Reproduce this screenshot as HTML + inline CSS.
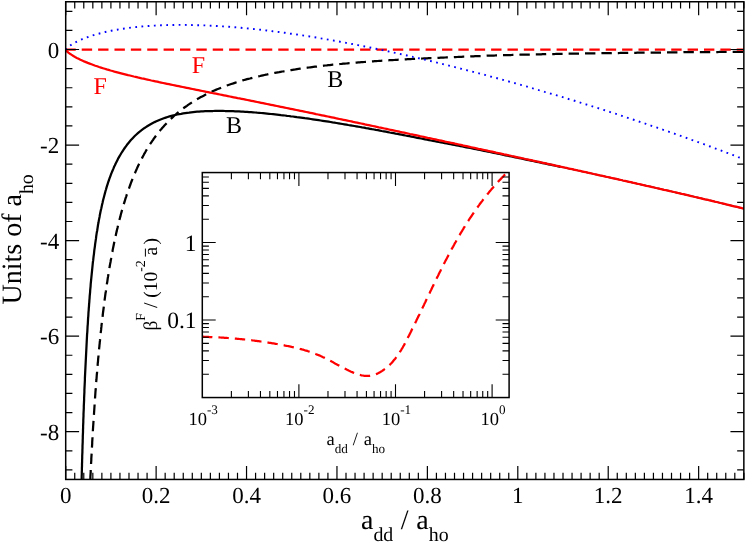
<!DOCTYPE html>
<html><head><meta charset="utf-8"><title>chart</title><style>html,body{margin:0;padding:0;background:#fff;overflow:hidden}svg{display:block;will-change:transform}text{text-rendering:geometricPrecision}</style></head><body>
<svg width="747" height="543" viewBox="0 0 747 543">
<rect width="747" height="543" fill="#fff"/>
<clipPath id="cm"><rect x="65.70" y="1.75" width="678.15" height="477.70"/></clipPath>
<clipPath id="ci"><rect x="202.30" y="172.56" width="306.80" height="224.99"/></clipPath>
<g clip-path="url(#cm)" fill="none" stroke-linejoin="round">
<path d="M79.3 604.2 L79.3 602.2 L79.3 600.2 L79.4 598.2 L79.4 596.2 L79.4 594.2 L79.4 592.2 L79.5 590.2 L79.5 588.2 L79.5 586.2 L79.6 584.2 L79.6 582.2 L79.6 580.2 L79.7 578.2 L79.7 576.2 L79.7 574.2 L79.8 572.2 L79.8 570.2 L79.8 568.2 L79.9 566.2 L79.9 564.2 L79.9 562.2 L80.0 560.2 L80.0 558.2 L80.0 556.2 L80.1 554.2 L80.1 552.2 L80.1 550.2 L80.2 548.2 L80.2 546.2 L80.3 544.2 L80.3 542.2 L80.3 540.2 L80.4 538.2 L80.4 536.2 L80.4 534.2 L80.5 532.2 L80.5 530.2 L80.6 528.2 L80.6 526.2 L80.6 524.2 L80.7 522.2 L80.7 520.1 L80.8 518.1 L80.8 516.1 L80.9 514.1 L80.9 512.1 L80.9 510.1 L81.0 508.1 L81.0 506.1 L81.1 504.1 L81.1 502.1 L81.2 500.1 L81.2 498.1 L81.2 496.1 L81.3 494.1 L81.3 492.1 L81.4 490.1 L81.4 488.1 L81.5 486.1 L81.5 484.1 L81.6 482.1 L81.6 480.1 L81.7 478.1 L81.7 476.1 L81.8 474.1 L81.8 472.1 L81.9 470.1 L81.9 468.1 L82.0 466.1 L82.0 464.1 L82.1 462.1 L82.1 460.1 L82.2 458.1 L82.2 456.1 L82.3 454.1 L82.4 452.1 L82.4 450.1 L82.5 448.1 L82.5 446.1 L82.6 444.1 L82.7 442.1 L82.7 440.1 L82.8 438.1 L82.8 436.1 L82.9 434.1 L83.0 432.1 L83.0 430.1 L83.1 428.1 L83.1 426.1 L83.2 424.1 L83.3 422.1 L83.3 420.1 L83.4 418.1 L83.5 416.1 L83.5 414.1 L83.6 412.1 L83.7 410.1 L83.8 408.1 L83.8 406.1 L83.9 404.1 L84.0 402.1 L84.1 400.1 L84.1 398.1 L84.2 396.1 L84.3 394.1 L84.4 392.1 L84.4 390.1 L84.5 388.1 L84.6 386.1 L84.7 384.1 L84.8 382.1 L84.9 380.1 L84.9 378.1 L85.0 376.1 L85.1 374.1 L85.2 372.1 L85.3 370.1 L85.4 368.1 L85.5 366.1 L85.6 364.1 L85.7 362.1 L85.8 360.1 L85.9 358.1 L86.0 356.1 L86.1 354.1 L86.2 352.1 L86.3 350.1 L86.4 348.1 L86.5 346.1 L86.6 344.1 L86.7 342.1 L86.8 340.1 L86.9 338.1 L87.0 336.1 L87.1 334.1 L87.3 332.1 L87.4 330.1 L87.5 328.1 L87.6 326.1 L87.8 324.1 L87.9 322.1 L88.0 320.1 L88.1 318.1 L88.3 316.1 L88.4 314.1 L88.5 312.1 L88.7 310.1 L88.8 308.1 L89.0 306.1 L89.1 304.1 L89.3 302.1 L89.4 300.1 L89.6 298.1 L89.7 296.1 L89.9 294.1 L90.1 292.1 L90.2 290.1 L90.4 288.1 L90.6 286.1 L90.7 284.1 L90.9 282.1 L91.1 280.1 L91.3 278.2 L91.5 276.2 L91.7 274.2 L91.9 272.2 L92.1 270.2 L92.3 268.2 L92.5 266.2 L92.7 264.2 L92.9 262.2 L93.2 260.2 L93.4 258.2 L93.6 256.3 L93.9 254.3 L94.1 252.3 L94.3 250.3 L94.6 248.3 L94.9 246.3 L95.1 244.3 L95.4 242.3 L95.7 240.4 L96.0 238.4 L96.2 236.4 L96.5 234.4 L96.8 232.4 L97.2 230.5 L97.5 228.5 L97.8 226.5 L98.1 224.5 L98.5 222.6 L98.8 220.6 L99.2 218.6 L99.6 216.7 L99.9 214.7 L100.3 212.7 L100.7 210.8 L101.2 208.8 L101.6 206.9 L102.0 204.9 L102.5 203.0 L102.9 201.1 L103.4 199.1 L103.9 197.2 L104.4 195.3 L104.9 193.4 L105.4 191.4 L106.0 189.5 L106.5 187.6 L107.1 185.7 L107.7 183.8 L108.3 181.9 L109.0 180.0 L109.6 178.2 L110.3 176.3 L111.0 174.4 L111.7 172.6 L112.5 170.7 L113.3 168.9 L114.0 167.1 L114.9 165.3 L115.7 163.5 L116.6 161.7 L117.5 159.9 L118.4 158.1 L119.4 156.4 L120.4 154.7 L121.4 153.0 L122.5 151.3 L123.6 149.6 L124.7 148.0 L125.9 146.4 L127.0 144.8 L128.3 143.2 L129.5 141.7 L130.9 140.1 L132.2 138.7 L133.6 137.2 L135.0 135.8 L136.4 134.5 L137.9 133.1 L139.4 131.8 L141.0 130.6 L142.6 129.4 L144.2 128.2 L145.9 127.1 L147.6 126.0 L149.3 125.0 L151.0 124.0 L152.8 123.0 L154.6 122.1 L156.4 121.3 L158.2 120.5 L160.0 119.7 L161.9 119.0 L163.8 118.3 L165.7 117.6 L167.6 117.0 L169.5 116.4 L171.4 115.9 L173.4 115.4 L175.3 115.0 L177.3 114.5 L179.2 114.1 L181.2 113.8 L183.2 113.4 L185.2 113.1 L187.1 112.8 L189.1 112.6 L191.1 112.3 L193.1 112.1 L195.1 111.9 L197.1 111.7 L199.1 111.6 L201.1 111.4 L203.1 111.3 L205.1 111.2 L207.1 111.1 L209.1 111.1 L211.1 111.0 L213.1 111.0 L215.1 110.9 L217.1 110.9 L219.1 110.9 L221.1 110.9 L223.1 110.9 L225.1 111.0 L227.1 111.0 L229.1 111.1 L231.1 111.1 L233.1 111.2 L235.1 111.3 L237.1 111.3 L239.1 111.4 L241.1 111.6 L243.1 111.7 L245.1 111.8 L247.1 111.9 L249.1 112.1 L251.1 112.2 L253.1 112.3 L255.1 112.5 L257.1 112.7 L259.1 112.8 L261.1 113.0 L263.1 113.2 L265.1 113.4 L267.1 113.6 L269.1 113.8 L271.0 114.0 L273.0 114.2 L275.0 114.4 L277.0 114.6 L279.0 114.8 L281.0 115.1 L283.0 115.3 L285.0 115.5 L287.0 115.8 L288.9 116.0 L290.9 116.3 L292.9 116.5 L294.9 116.8 L296.9 117.1 L298.9 117.3 L300.9 117.6 L302.8 117.9 L304.8 118.2 L306.8 118.4 L308.8 118.7 L310.8 119.0 L312.8 119.3 L314.7 119.6 L316.7 119.9 L318.7 120.2 L320.7 120.5 L322.7 120.8 L324.6 121.1 L326.6 121.4 L328.6 121.7 L330.6 122.0 L332.5 122.4 L334.5 122.7 L336.5 123.0 L338.5 123.3 L340.4 123.7 L342.4 124.0 L344.4 124.3 L346.4 124.6 L348.3 125.0 L350.3 125.3 L352.3 125.7 L354.3 126.0 L356.2 126.3 L358.2 126.7 L360.2 127.0 L362.1 127.4 L364.1 127.7 L366.1 128.1 L368.1 128.4 L370.0 128.8 L372.0 129.2 L374.0 129.5 L375.9 129.9 L377.9 130.2 L379.9 130.6 L381.8 131.0 L383.8 131.3 L385.8 131.7 L387.8 132.1 L389.7 132.5 L391.7 132.8 L393.7 133.2 L395.6 133.6 L397.6 133.9 L399.6 134.3 L401.5 134.7 L403.5 135.1 L405.5 135.5 L407.4 135.8 L409.4 136.2 L411.3 136.6 L413.3 137.0 L415.3 137.4 L417.2 137.8 L419.2 138.1 L421.2 138.5 L423.1 138.9 L425.1 139.3 L427.1 139.7 L429.0 140.1 L431.0 140.5 L433.0 140.8 L434.9 141.2 L436.9 141.6 L438.8 142.0 L440.8 142.3 L442.8 142.7 L444.7 143.1 L446.7 143.5 L448.7 143.8 L450.6 144.2 L452.6 144.6 L454.5 145.0 L456.5 145.4 L458.5 145.7 L460.4 146.1 L462.4 146.5 L464.3 146.9 L466.3 147.3 L468.3 147.7 L470.2 148.0 L472.2 148.4 L474.2 148.8 L476.1 149.2 L478.1 149.6 L480.0 150.0 L482.0 150.4 L484.0 150.8 L485.9 151.2 L487.9 151.6 L489.8 152.0 L491.8 152.4 L493.8 152.8 L495.7 153.2 L497.7 153.6 L499.6 154.0 L501.6 154.5 L503.6 154.9 L505.5 155.3 L507.5 155.7 L509.4 156.1 L511.4 156.5 L513.3 156.9 L515.3 157.3 L517.3 157.7 L519.2 158.1 L521.2 158.5 L523.1 158.9 L525.1 159.4 L527.1 159.8 L529.0 160.2 L531.0 160.6 L532.9 161.0 L534.9 161.4 L536.8 161.8 L538.8 162.2 L540.8 162.6 L542.7 163.1 L544.7 163.5 L546.6 163.9 L548.6 164.3 L550.5 164.7 L552.5 165.1 L554.5 165.5 L556.4 166.0 L558.4 166.4 L560.3 166.8" stroke="#000" stroke-width="2.25"/>
<path d="M560.3 166.8 L562.3 167.2 L564.2 167.6 L566.2 168.0 L568.2 168.5 L570.1 168.9 L572.1 169.3 L574.0 169.7 L576.0 170.1 L577.9 170.6 L579.9 171.0 L581.9 171.4 L583.8 171.8 L585.8 172.3 L587.7 172.7 L589.7 173.1 L591.6 173.5 L593.6 174.0 L595.6 174.4 L597.5 174.8 L599.5 175.3 L601.4 175.7 L603.4 176.1 L605.3 176.5 L607.3 177.0 L609.2 177.4 L611.2 177.8 L613.2 178.3 L615.1 178.7 L617.1 179.1 L619.0 179.6 L621.0 180.0 L622.9 180.5 L624.9 180.9 L626.8 181.3 L628.8 181.8 L630.7 182.2 L632.7 182.7 L634.7 183.1 L636.6 183.5 L638.6 184.0 L640.5 184.4 L642.5 184.9 L644.4 185.3 L646.4 185.7 L648.3 186.2 L650.3 186.6 L652.2 187.1 L654.2 187.5 L656.1 188.0 L658.1 188.4 L660.0 188.8 L662.0 189.3 L663.9 189.7 L665.9 190.2 L667.9 190.6 L669.8 191.1 L671.8 191.5 L673.7 192.0 L675.7 192.4 L677.6 192.9 L679.6 193.3 L681.5 193.8 L683.5 194.2 L685.4 194.7 L687.4 195.1 L689.3 195.6 L691.3 196.0 L693.2 196.5 L695.2 197.0 L697.1 197.4 L699.1 197.9 L701.0 198.3 L703.0 198.8 L704.9 199.3 L706.9 199.7 L708.8 200.2 L710.8 200.6 L712.7 201.1 L714.7 201.6 L716.6 202.0 L718.6 202.5 L720.5 203.0 L722.4 203.4 L724.4 203.9 L726.3 204.4 L728.3 204.8 L730.2 205.3 L732.2 205.8 L734.1 206.3 L736.1 206.7 L738.0 207.2 L740.0 207.7 L741.9 208.2 L743.9 208.6" stroke="#000" stroke-width="1.5"/>
<path id="bd" d="M90.3 479.6 L90.4 478.1 L90.4 476.6 L90.5 475.1 L90.6 473.6 L90.7 472.1 L90.7 470.6 L90.8 469.1 L90.9 467.6 L91.0 466.1 L91.0 464.6 L91.1 463.1 L91.2 461.6 L91.3 460.1 L91.3 458.6 L91.4 457.1 L91.5 455.6 L91.6 454.1 L91.7 452.6 L91.7 451.1 L91.8 449.6 L91.9 448.1 L92.0 446.6 L92.1 445.1 L92.2 443.6 L92.2 442.1 L92.3 440.6 L92.4 439.1 L92.5 437.6 L92.6 436.1 L92.7 434.7 L92.8 433.2 L92.8 431.7 L92.9 430.2 L93.0 428.7 L93.1 427.2 L93.2 425.7 L93.3 424.2 L93.4 422.7 L93.5 421.2 L93.6 419.7 L93.7 418.2 L93.8 416.7 L93.9 415.2 L94.0 413.7 L94.1 412.2 L94.2 410.7 L94.3 409.2 L94.4 407.7 L94.5 406.2 L94.6 404.7 L94.7 403.2 L94.8 401.7 L94.9 400.2 L95.0 398.7 L95.1 397.2 L95.2 395.7 L95.3 394.2 L95.4 392.7 L95.5 391.2 L95.7 389.7 L95.8 388.2 L95.9 386.7 L96.0 385.2 L96.1 383.7 L96.2 382.2 L96.3 380.7 L96.5 379.2 L96.6 377.7 L96.7 376.2 L96.8 374.7 L97.0 373.2 L97.1 371.7 L97.2 370.3 L97.3 368.8 L97.5 367.3 L97.6 365.8 L97.7 364.3 L97.8 362.8 L98.0 361.3 L98.1 359.8 L98.2 358.3 L98.4 356.8 L98.5 355.3 L98.7 353.8 L98.8 352.3 L98.9 350.8 L99.1 349.3 L99.2 347.8 L99.4 346.3 L99.5 344.8 L99.7 343.3 L99.8 341.8 L100.0 340.4 L100.1 338.9 L100.3 337.4 L100.4 335.9 L100.6 334.4 L100.7 332.9 L100.9 331.4 L101.1 329.9 L101.2 328.4 L101.4 326.9 L101.5 325.4 L101.7 323.9 L101.9 322.4 L102.1 320.9 L102.2 319.5 L102.4 318.0 L102.6 316.5 L102.8 315.0 L102.9 313.5 L103.1 312.0 L103.3 310.5 L103.5 309.0 L103.7 307.5 L103.9 306.0 L104.0 304.6 L104.2 303.1 L104.4 301.6 L104.6 300.1 L104.8 298.6 L105.0 297.1 L105.2 295.6 L105.4 294.1 L105.6 292.7 L105.9 291.2 L106.1 289.7 L106.3 288.2 L106.5 286.7 L106.7 285.3 L106.9 283.8 L107.2 282.3 L107.4 280.8 L107.6 279.3 L107.8 277.9 L108.1 276.4 L108.3 274.9 L108.5 273.4 L108.8 272.0 L109.0 270.5 L109.3 269.0 L109.5 267.5 L109.8 266.1 L110.0 264.6 L110.3 263.1 L110.6 261.7 L110.8 260.2 L111.1 258.7 L111.3 257.2 L111.6 255.8 L111.9 254.3 L112.2 252.8 L112.5 251.4 L112.7 249.9 L113.0 248.4 L113.3 247.0 L113.6 245.5 L113.9 244.0 L114.2 242.6 L114.5 241.1 L114.8 239.7 L115.2 238.2 L115.5 236.7 L115.8 235.3 L116.1 233.8 L116.4 232.4 L116.8 230.9 L117.1 229.4 L117.5 228.0 L117.8 226.5 L118.2 225.1 L118.5 223.6 L118.9 222.2 L119.2 220.7 L119.6 219.3 L120.0 217.8 L120.4 216.4 L120.7 215.0 L121.1 213.5 L121.5 212.1 L121.9 210.6 L122.3 209.2 L122.8 207.8 L123.2 206.3 L123.6 204.9 L124.0 203.4 L124.5 202.0 L124.9 200.6 L125.3 199.2 L125.8 197.7 L126.3 196.3 L126.7 194.9 L127.2 193.5 L127.7 192.1 L128.2 190.6 L128.7 189.2 L129.2 187.8 L129.7 186.4 L130.2 185.0 L130.7 183.6 L131.2 182.2 L131.8 180.8 L132.3 179.4 L132.9 178.0 L133.4 176.6 L134.0 175.2 L134.6 173.8 L135.2 172.5 L135.8 171.1 L136.4 169.7 L137.0 168.4 L137.6 167.0 L138.3 165.6 L138.9 164.3 L139.6 162.9 L140.2 161.6 L140.9 160.3 L141.6 158.9 L142.3 157.6 L143.0 156.3 L143.7 155.0 L144.4 153.6 L145.2 152.3 L145.9 151.0 L146.7 149.7 L147.4 148.5 L148.2 147.2 L149.0 145.9 L149.8 144.6 L150.6 143.4 L151.5 142.1 L152.3 140.9 L153.2 139.7 L154.0 138.4 L154.9 137.2 L155.8 136.0 L156.7 134.8 L157.6 133.6 L158.5 132.4 L159.5 131.3 L160.4 130.1 L161.4 129.0 L162.4 127.8 L163.4 126.7 L164.4 125.6 L165.4 124.5 L166.4 123.4 L167.5 122.3 L168.5 121.2 L169.6 120.2 L170.6 119.1 L171.7 118.1 L172.8 117.1 L173.9 116.0 L175.1 115.0 L176.2 114.1 L177.3 113.1 L178.5 112.1 L179.7 111.2 L180.8 110.3 L182.0 109.3 L183.2 108.4 L184.4 107.5 L185.6 106.7 L186.9 105.8 L188.1 104.9 L189.3 104.1 L190.6 103.3 L191.9 102.4 L193.1 101.6 L194.4 100.9 L195.7 100.1 L197.0 99.3 L198.3 98.6 L199.6 97.8 L200.9 97.1 L202.2 96.4 L203.6 95.7 L204.9 95.0 L206.2 94.3 L207.6 93.7 L208.9 93.0 L210.3 92.4 L211.7 91.7 L213.0 91.1 L214.4 90.5 L215.8 89.9 L217.2 89.3 L218.5 88.8 L219.9 88.2 L221.3 87.6 L222.7 87.1 L224.1 86.6 L225.5 86.0 L226.9 85.5 L228.4 85.0 L229.8 84.5 L231.2 84.0 L232.6 83.6 L234.1 83.1 L235.5 82.6 L236.9 82.2 L238.3 81.7 L239.8 81.3 L241.2 80.9 L242.7 80.4 L244.1 80.0 L245.6 79.6 L247.0 79.2 L248.4 78.8 L249.9 78.5 L251.4 78.1 L252.8 77.7 L254.3 77.3 L255.7 77.0 L257.2 76.6 L258.6 76.3 L260.1 76.0 L261.6 75.6 L263.0 75.3 L264.5 75.0 L266.0 74.7 L267.4 74.4 L268.9 74.0 L270.4 73.7 L271.9 73.5 L273.3 73.2 L274.8 72.9 L276.3 72.6 L277.8 72.3 L279.2 72.1 L280.7 71.8 L282.2 71.5 L283.7 71.3 L285.1 71.0 L286.6 70.8 L288.1 70.5 L289.6 70.3 L291.1 70.1 L292.6 69.8 L294.0 69.6 L295.5 69.4 L297.0 69.1 L298.5 68.9 L300.0 68.7 L301.5 68.5 L303.0 68.3 L304.4 68.1 L305.9 67.9 L307.4 67.7 L308.9 67.5 L310.4 67.3 L311.9 67.1 L313.4 66.9 L314.9 66.7 L316.4 66.6 L317.8 66.4 L319.3 66.2 L320.8 66.0 L322.3 65.9 L323.8 65.7 L325.3 65.5 L326.8 65.4 L328.3 65.2 L329.8 65.1 L331.3 64.9 L332.8 64.7 L334.3 64.6 L335.8 64.4 L337.3 64.3 L338.7 64.2 L340.2 64.0 L341.7 63.9 L343.2 63.7 L344.7 63.6 L346.2 63.5 L347.7 63.3 L349.2 63.2 L350.7 63.1 L352.2 62.9 L353.7 62.8 L355.2 62.7 L356.7 62.6 L358.2 62.4 L359.7 62.3 L361.2 62.2 L362.7 62.1 L364.2 62.0 L365.7 61.9 L367.2 61.8 L368.7 61.6 L370.2 61.5 L371.7 61.4 L373.2 61.3 L374.7 61.2 L376.2 61.1 L377.7 61.0 L379.2 60.9 L380.7 60.8 L382.2 60.7 L383.7 60.6 L385.1 60.5 L386.6 60.4 L388.1 60.3 L389.6 60.2 L391.1 60.2 L392.6 60.1 L394.1 60.0 L395.6 59.9 L397.1 59.8 L398.6 59.7 L400.1 59.6 L401.6 59.6 L403.1 59.5 L404.6 59.4 L406.1 59.3 L407.6 59.2 L409.1 59.2 L410.6 59.1 L412.1 59.0 L413.6 58.9 L415.1 58.8 L416.6 58.8 L418.1 58.7 L419.6 58.6 L421.1 58.6 L422.6 58.5 L424.1 58.4 L425.6 58.3 L427.1 58.3 L428.6 58.2 L430.1 58.1 L431.6 58.1 L433.1 58.0 L434.6 58.0 L436.1 57.9 L437.6 57.8 L439.1 57.8 L440.6 57.7 L442.1 57.6 L443.6 57.6 L445.1 57.5 L446.6 57.4 L448.1 57.4 L449.6 57.3 L451.1 57.3 L452.6 57.2 L454.1 57.1 L455.6 57.1 L457.1 57.0 L458.6 56.9 L460.1 56.9 L461.6 56.8 L463.1 56.7 L464.6 56.7 L466.1 56.6 L467.6 56.5 L469.1 56.5 L470.6 56.4 L472.1 56.3 L473.6 56.3 L475.1 56.2 L476.6 56.1 L478.1 56.1 L479.6 56.0 L481.1 56.0 L482.6 55.9 L484.1 55.8 L485.6 55.8 L487.1 55.7 L488.6 55.7 L490.1 55.6 L491.6 55.6 L493.1 55.5 L494.6 55.5 L496.1 55.4 L497.7 55.4 L499.2 55.3 L500.7 55.3 L502.2 55.2 L503.7 55.2 L505.2 55.2 L506.7 55.1 L508.2 55.1 L509.7 55.0 L511.2 55.0 L512.7 54.9 L514.2 54.9 L515.7 54.9 L517.2 54.8 L518.7 54.8 L520.2 54.7 L521.7 54.7 L523.2 54.7 L524.7 54.6 L526.2 54.6 L527.7 54.6 L529.2 54.5 L530.7 54.5 L532.2 54.5 L533.7 54.4 L535.2 54.4 L536.7 54.4 L538.2 54.3 L539.7 54.3 L541.2 54.3 L542.7 54.2 L544.2 54.2 L545.7 54.2 L547.2 54.1 L548.7 54.1 L550.2 54.1 L551.7 54.0 L553.2 54.0 L554.7 54.0 L556.2 53.9 L557.7 53.9 L559.2 53.9 L560.7 53.9 L562.2 53.8 L563.7 53.8 L565.2 53.8 L566.7 53.8 L568.2 53.7 L569.7 53.7 L571.2 53.7 L572.7 53.7 L574.2 53.6 L575.7 53.6 L577.2 53.6 L578.7 53.6 L580.2 53.5 L581.7 53.5 L583.2 53.5 L584.7 53.5 L586.2 53.4 L587.7 53.4 L589.2 53.4 L590.7 53.4 L592.2 53.3 L593.7 53.3 L595.2 53.3 L596.7 53.3 L598.2 53.3 L599.7 53.2 L601.2 53.2 L602.7 53.2 L604.2 53.2 L605.7 53.1 L607.2 53.1 L608.7 53.1 L610.2 53.1 L611.7 53.1 L613.2 53.0 L614.7 53.0 L616.2 53.0 L617.7 53.0 L619.2 53.0 L620.7 52.9 L622.2 52.9 L623.7 52.9 L625.2 52.9 L626.7 52.9 L628.2 52.8 L629.7 52.8 L631.3 52.8 L632.8 52.8 L634.3 52.8 L635.8 52.8 L637.3 52.7 L638.8 52.7 L640.3 52.7 L641.8 52.7 L643.3 52.7 L644.8 52.7 L646.3 52.6 L647.8 52.6 L649.3 52.6 L650.8 52.6 L652.3 52.6 L653.8 52.6 L655.3 52.5 L656.8 52.5 L658.3 52.5 L659.8 52.5 L661.3 52.5 L662.8 52.5 L664.3 52.4 L665.8 52.4 L667.3 52.4 L668.8 52.4 L670.3 52.4 L671.8 52.4 L673.3 52.3 L674.8 52.3 L676.3 52.3 L677.8 52.3 L679.3 52.3 L680.8 52.3 L682.3 52.3 L683.8 52.2 L685.3 52.2 L686.8 52.2 L688.3 52.2 L689.8 52.2 L691.3 52.2 L692.8 52.2 L694.3 52.2 L695.8 52.1 L697.3 52.1 L698.8 52.1 L700.3 52.1 L701.8 52.1 L703.3 52.1 L704.8 52.1 L706.3 52.0 L707.8 52.0 L709.3 52.0 L710.8 52.0 L712.3 52.0 L713.8 52.0 L715.3 52.0 L716.8 52.0 L718.3 52.0 L719.8 51.9 L721.3 51.9 L722.8 51.9 L724.3 51.9 L725.8 51.9 L727.3 51.9 L728.8 51.9 L730.3 51.9 L731.8 51.8 L733.3 51.8 L734.8 51.8 L736.3 51.8 L737.8 51.8 L739.3 51.8 L740.8 51.8 L742.3 51.8 L743.9 51.8" stroke="#000" stroke-width="2.25" stroke-dasharray="10.4 6.010" stroke-dashoffset="0.81"/>
<path d="M65.7 49.7 L66.9 51.3 L68.4 52.6 L70.0 53.8 L71.7 54.9 L73.4 56.0 L75.1 57.0 L76.8 57.9 L78.6 58.8 L80.4 59.7 L82.2 60.5 L84.1 61.4 L85.9 62.1 L87.8 62.9 L89.6 63.6 L91.5 64.3 L93.4 65.0 L95.3 65.7 L97.2 66.3 L99.1 67.0 L101.0 67.6 L102.9 68.2 L104.8 68.8 L106.7 69.4 L108.6 69.9 L110.5 70.5 L112.5 71.0 L114.4 71.6 L116.3 72.1 L118.3 72.6 L120.2 73.1 L122.1 73.6 L124.1 74.1 L126.0 74.6 L128.0 75.1 L129.9 75.5 L131.8 76.0 L133.8 76.5 L135.7 76.9 L137.7 77.4 L139.6 77.8 L141.6 78.3 L143.5 78.7 L145.5 79.2 L147.4 79.6 L149.4 80.0 L151.3 80.5 L153.3 80.9 L155.3 81.3 L157.2 81.7 L159.2 82.2 L161.1 82.6 L163.1 83.0 L165.0 83.4 L167.0 83.8 L169.0 84.2 L170.9 84.6 L172.9 85.0 L174.8 85.4 L176.8 85.8 L178.8 86.2 L180.7 86.6 L182.7 87.0 L184.6 87.4 L186.6 87.8 L188.6 88.2 L190.5 88.6 L192.5 89.0 L194.4 89.4 L196.4 89.8 L198.4 90.2 L200.3 90.6 L202.3 91.0 L204.3 91.4 L206.2 91.8 L208.2 92.2 L210.1 92.6 L212.1 93.0 L214.1 93.3 L216.0 93.7 L218.0 94.1 L219.9 94.5 L221.9 94.9 L223.9 95.3 L225.8 95.7 L227.8 96.1 L229.8 96.5 L231.7 96.9 L233.7 97.3 L235.6 97.7 L237.6 98.1 L239.6 98.4 L241.5 98.8 L243.5 99.2 L245.5 99.6 L247.4 100.0 L249.4 100.4 L251.3 100.8 L253.3 101.2 L255.3 101.6 L257.2 102.0 L259.2 102.4 L261.1 102.8 L263.1 103.2 L265.1 103.6 L267.0 104.0 L269.0 104.4 L270.9 104.8 L272.9 105.2 L274.9 105.6 L276.8 106.0 L278.8 106.4 L280.7 106.8 L282.7 107.2 L284.7 107.6 L286.6 108.0 L288.6 108.4 L290.5 108.8 L292.5 109.2 L294.5 109.6 L296.4 110.0 L298.4 110.4 L300.3 110.8 L302.3 111.2 L304.3 111.6 L306.2 112.0 L308.2 112.4 L310.1 112.8 L312.1 113.2 L314.1 113.6 L316.0 114.1 L318.0 114.5 L319.9 114.9 L321.9 115.3 L323.9 115.7 L325.8 116.1 L327.8 116.5 L329.7 116.9 L331.7 117.3 L333.6 117.7 L335.6 118.2 L337.6 118.6 L339.5 119.0 L341.5 119.4 L343.4 119.8 L345.4 120.2 L347.4 120.6 L349.3 121.0 L351.3 121.4 L353.2 121.9 L355.2 122.3 L357.1 122.7 L359.1 123.1 L361.1 123.5 L363.0 123.9 L365.0 124.4 L366.9 124.8 L368.9 125.2 L370.8 125.6 L372.8 126.0 L374.8 126.4 L376.7 126.8 L378.7 127.3 L380.6 127.7 L382.6 128.1 L384.5 128.5 L386.5 128.9 L388.5 129.4 L390.4 129.8 L392.4 130.2 L394.3 130.6 L396.3 131.0 L398.2 131.4 L400.2 131.9 L402.1 132.3 L404.1 132.7 L406.1 133.1 L408.0 133.5 L410.0 134.0 L411.9 134.4 L413.9 134.8 L415.8 135.2 L417.8 135.6 L419.8 136.1 L421.7 136.5 L423.7 136.9 L425.6 137.3 L427.6 137.8 L429.5 138.2 L431.5 138.6 L433.4 139.0 L435.4 139.4 L437.4 139.9 L439.3 140.3 L441.3 140.7 L443.2 141.1 L445.2 141.6 L447.1 142.0 L449.1 142.4 L451.0 142.8 L453.0 143.2 L455.0 143.7 L456.9 144.1 L458.9 144.5 L460.8 144.9 L462.8 145.4 L464.7 145.8 L466.7 146.2 L468.6 146.6 L470.6 147.1 L472.6 147.5 L474.5 147.9 L476.5 148.3 L478.4 148.8 L480.4 149.2 L482.3 149.6 L484.3 150.0 L486.2 150.4 L488.2 150.9 L490.2 151.3 L492.1 151.7 L494.1 152.1 L496.0 152.6 L498.0 153.0 L499.9 153.4 L501.9 153.8 L503.8 154.3 L505.8 154.7 L507.7 155.1 L509.7 155.5 L511.7 156.0 L513.6 156.4 L515.6 156.8 L517.5 157.3 L519.5 157.7 L521.4 158.1 L523.4 158.5 L525.3 159.0 L527.3 159.4 L529.3 159.8 L531.2 160.2 L533.2 160.7 L535.1 161.1 L537.1 161.5 L539.0 161.9 L541.0 162.4 L542.9 162.8 L544.9 163.2 L546.8 163.7 L548.8 164.1 L550.8 164.5 L552.7 164.9 L554.7 165.4 L556.6 165.8 L558.6 166.2 L560.5 166.7 L562.5 167.1 L564.4 167.5 L566.4 167.9 L568.3 168.4 L570.3 168.8 L572.3 169.2 L574.2 169.7 L576.2 170.1 L578.1 170.5 L580.1 170.9 L582.0 171.4 L584.0 171.8 L585.9 172.2 L587.9 172.7 L589.8 173.1 L591.8 173.5 L593.7 174.0 L595.7 174.4 L597.7 174.8 L599.6 175.3 L601.6 175.7 L603.5 176.1 L605.5 176.6 L607.4 177.0 L609.4 177.4 L611.3 177.9 L613.3 178.3 L615.2 178.7 L617.2 179.2 L619.1 179.6 L621.1 180.0 L623.0 180.5 L625.0 180.9 L626.9 181.4 L628.9 181.8 L630.8 182.2 L632.8 182.7 L634.8 183.1 L636.7 183.6 L638.7 184.0 L640.6 184.4 L642.6 184.9 L644.5 185.3 L646.5 185.8 L648.4 186.2 L650.4 186.6 L652.3 187.1 L654.3 187.5 L656.2 188.0 L658.2 188.4 L660.1 188.9 L662.1 189.3 L664.0 189.8 L666.0 190.2 L667.9 190.6 L669.9 191.1 L671.8 191.5 L673.8 192.0 L675.7 192.4 L677.7 192.9 L679.6 193.3 L681.6 193.8 L683.5 194.2 L685.5 194.7 L687.4 195.2 L689.4 195.6 L691.3 196.1 L693.3 196.5 L695.2 197.0 L697.2 197.4 L699.1 197.9 L701.1 198.3 L703.0 198.8 L704.9 199.3 L706.9 199.7 L708.8 200.2 L710.8 200.6 L712.7 201.1 L714.7 201.6 L716.6 202.0 L718.6 202.5 L720.5 203.0 L722.5 203.4 L724.4 203.9 L726.4 204.4 L728.3 204.8 L730.2 205.3 L732.2 205.8 L734.1 206.3 L736.1 206.7 L738.0 207.2 L740.0 207.7 L741.9 208.2 L743.9 208.6" stroke="#f00" stroke-width="2.25"/>
<path d="M65.35 49.65H744.2" stroke="#f00" stroke-width="2.25" stroke-dasharray="10.4 5.975"/>
<path d="M65.7 49.7 L66.9 48.1 L68.4 46.8 L70.0 45.6 L71.7 44.5 L73.4 43.5 L75.1 42.5 L76.9 41.6 L78.7 40.7 L80.5 39.9 L82.4 39.1 L84.3 38.4 L86.1 37.6 L88.0 37.0 L89.9 36.3 L91.8 35.7 L93.7 35.1 L95.6 34.5 L97.6 34.0 L99.5 33.5 L101.5 33.0 L103.4 32.5 L105.3 32.0 L107.3 31.6 L109.3 31.2 L111.2 30.8 L113.2 30.4 L115.2 30.0 L117.1 29.7 L119.1 29.3 L121.1 29.0 L123.1 28.7 L125.1 28.4 L127.0 28.2 L129.0 27.9 L131.0 27.6 L133.0 27.4 L135.0 27.2 L137.0 27.0 L139.0 26.8 L141.0 26.6 L143.0 26.4 L145.0 26.2 L147.0 26.1 L149.0 26.0 L151.0 25.8 L153.0 25.7 L155.0 25.6 L157.0 25.5 L159.0 25.4 L161.0 25.3 L163.0 25.2 L165.0 25.2 L167.0 25.1 L169.0 25.0 L171.0 25.0 L173.0 25.0 L175.0 24.9 L177.0 24.9 L179.0 24.9 L181.0 24.9 L183.0 24.9 L185.0 24.9 L187.0 25.0 L189.0 25.0 L191.0 25.0 L193.0 25.1 L195.0 25.1 L197.1 25.2 L199.1 25.2 L201.1 25.3 L203.1 25.4 L205.1 25.4 L207.1 25.5 L209.1 25.6 L211.1 25.7 L213.1 25.8 L215.1 25.9 L217.1 26.0 L219.1 26.1 L221.1 26.3 L223.1 26.4 L225.1 26.5 L227.1 26.7 L229.1 26.8 L231.1 27.0 L233.1 27.1 L235.1 27.3 L237.1 27.5 L239.1 27.6 L241.1 27.8 L243.1 28.0 L245.0 28.2 L247.0 28.4 L249.0 28.6 L251.0 28.8 L253.0 29.0 L255.0 29.2 L257.0 29.4 L259.0 29.6 L261.0 29.8 L263.0 30.1 L265.0 30.3 L267.0 30.5 L269.0 30.8 L270.9 31.0 L272.9 31.3 L274.9 31.5 L276.9 31.8 L278.9 32.0 L280.9 32.3 L282.9 32.6 L284.9 32.8 L286.8 33.1 L288.8 33.4 L290.8 33.7 L292.8 33.9 L294.8 34.2 L296.8 34.5 L298.7 34.8 L300.7 35.1 L302.7 35.4 L304.7 35.7 L306.7 36.0 L308.7 36.3 L310.6 36.7 L312.6 37.0 L314.6 37.3 L316.6 37.6 L318.5 37.9 L320.5 38.3 L322.5 38.6 L324.5 38.9 L326.4 39.3 L328.4 39.6 L330.4 40.0 L332.4 40.3 L334.3 40.7 L336.3 41.0 L338.3 41.4 L340.3 41.8 L342.2 42.1 L344.2 42.5 L346.2 42.9 L348.1 43.2 L350.1 43.6 L352.1 44.0 L354.0 44.4 L356.0 44.7 L358.0 45.1 L359.9 45.5 L361.9 45.9 L363.9 46.3 L365.8 46.7 L367.8 47.1 L369.8 47.5 L371.7 47.9 L373.7 48.3 L375.7 48.7 L377.6 49.1 L379.6 49.5 L381.5 49.9 L383.5 50.4 L385.5 50.8 L387.4 51.2 L389.4 51.6 L391.3 52.0 L393.3 52.5 L395.3 52.9 L397.2 53.3 L399.2 53.8 L401.1 54.2 L403.1 54.7 L405.0 55.1 L407.0 55.5 L408.9 56.0 L410.9 56.4 L412.8 56.9 L414.8 57.3 L416.7 57.8 L418.7 58.2 L420.7 58.7 L422.6 59.2 L424.6 59.6 L426.5 60.1 L428.5 60.6 L430.4 61.0 L432.3 61.5 L434.3 62.0 L436.2 62.4 L438.2 62.9 L440.1 63.4 L442.1 63.9 L444.0 64.4 L446.0 64.8 L447.9 65.3 L449.9 65.8 L451.8 66.3 L453.7 66.8 L455.7 67.3 L457.6 67.8 L459.6 68.3 L461.5 68.8 L463.5 69.3 L465.4 69.8 L467.3 70.3 L469.3 70.8 L471.2 71.3 L473.2 71.8 L475.1 72.3 L477.0 72.8 L479.0 73.3 L480.9 73.9 L482.8 74.4 L484.8 74.9 L486.7 75.4 L488.6 75.9 L490.6 76.5 L492.5 77.0 L494.4 77.5 L496.4 78.0 L498.3 78.6 L500.2 79.1 L502.2 79.6 L504.1 80.2 L506.0 80.7 L508.0 81.2 L509.9 81.8 L511.8 82.3 L513.8 82.9 L515.7 83.4 L517.6 84.0 L519.5 84.5 L521.5 85.1 L523.4 85.6 L525.3 86.2 L527.3 86.7 L529.2 87.3 L531.1 87.8 L533.0 88.4 L535.0 88.9 L536.9 89.5 L538.8 90.1 L540.7 90.6 L542.7 91.2 L544.6 91.8 L546.5 92.3 L548.4 92.9 L550.3 93.5 L552.3 94.0 L554.2 94.6 L556.1 95.2 L558.0 95.8 L559.9 96.3 L561.9 96.9 L563.8 97.5 L565.7 98.1 L567.6 98.7 L569.5 99.3 L571.4 99.8 L573.4 100.4 L575.3 101.0 L577.2 101.6 L579.1 102.2 L581.0 102.8 L582.9 103.4 L584.8 104.0 L586.8 104.6 L588.7 105.2 L590.6 105.8 L592.5 106.4 L594.4 107.0 L596.3 107.6 L598.2 108.2 L600.1 108.8 L602.0 109.4 L604.0 110.0 L605.9 110.6 L607.8 111.3 L609.7 111.9 L611.6 112.5 L613.5 113.1 L615.4 113.7 L617.3 114.3 L619.2 115.0 L621.1 115.6 L623.0 116.2 L624.9 116.8 L626.8 117.5 L628.7 118.1 L630.6 118.7 L632.5 119.4 L634.4 120.0 L636.3 120.6 L638.2 121.3 L640.1 121.9 L642.0 122.5 L643.9 123.2 L645.8 123.8 L647.7 124.5 L649.6 125.1 L651.5 125.8 L653.4 126.4 L655.3 127.1 L657.2 127.7 L659.1 128.4 L661.0 129.0 L662.9 129.7 L664.8 130.3 L666.7 131.0 L668.6 131.6 L670.5 132.3 L672.4 133.0 L674.3 133.6 L676.1 134.3 L678.0 135.0 L679.9 135.6 L681.8 136.3 L683.7 137.0 L685.6 137.6 L687.5 138.3 L689.4 139.0 L691.3 139.7 L693.1 140.3 L695.0 141.0 L696.9 141.7 L698.8 142.4 L700.7 143.1 L702.6 143.7 L704.4 144.4 L706.3 145.1 L708.2 145.8 L710.1 146.5 L712.0 147.2 L713.8 147.9 L715.7 148.6 L717.6 149.3 L719.5 150.0 L721.4 150.7 L723.2 151.4 L725.1 152.1 L727.0 152.8 L728.9 153.5 L730.7 154.2 L732.6 154.9 L734.5 155.6 L736.4 156.3 L738.2 157.1 L740.1 157.8 L742.0 158.5 L743.9 159.2" stroke="#00f" stroke-width="1.9" stroke-dasharray="1.75 4.46" stroke-dashoffset="0.1"/>
</g>
<g clip-path="url(#ci)" fill="none"><path d="M202.0 336.7 L203.1 336.7 L204.1 336.8 L205.2 336.8 L206.3 336.8 L207.4 336.9 L208.4 336.9 L209.5 337.0 L210.6 337.0 L211.7 337.0 L212.7 337.1 L213.8 337.1 L214.9 337.2 L216.0 337.3 L217.0 337.3 L218.1 337.4 L219.2 337.4 L220.3 337.5 L221.3 337.6 L222.4 337.6 L223.5 337.7 L224.6 337.8 L225.6 337.8 L226.7 337.9 L227.8 338.0 L228.8 338.1 L229.9 338.1 L231.0 338.2 L232.1 338.3 L233.1 338.4 L234.2 338.5 L235.3 338.6 L236.3 338.7 L237.4 338.8 L238.5 338.9 L239.5 339.0 L240.6 339.1 L241.7 339.2 L242.7 339.3 L243.8 339.4 L244.9 339.5 L245.9 339.6 L247.0 339.8 L248.1 339.9 L249.2 340.0 L250.2 340.1 L251.3 340.2 L252.3 340.4 L253.4 340.5 L254.5 340.6 L255.5 340.8 L256.6 340.9 L257.7 341.1 L258.7 341.2 L259.8 341.3 L260.9 341.5 L261.9 341.6 L263.0 341.8 L264.1 341.9 L265.1 342.1 L266.2 342.3 L267.3 342.4 L268.3 342.6 L269.4 342.8 L270.4 342.9 L271.5 343.1 L272.6 343.3 L273.6 343.4 L274.7 343.6 L275.7 343.8 L276.8 344.0 L277.9 344.2 L278.9 344.4 L280.0 344.6 L281.0 344.7 L282.1 344.9 L283.2 345.1 L284.2 345.3 L285.3 345.6 L286.3 345.8 L287.4 346.0 L288.4 346.2 L289.5 346.4 L290.6 346.6 L291.6 346.9 L292.7 347.1 L293.7 347.3 L294.8 347.6 L295.8 347.8 L296.8 348.1 L297.9 348.3 L298.9 348.6 L300.0 348.9 L301.0 349.1 L302.0 349.4 L303.1 349.7 L304.1 350.0 L305.1 350.3 L306.2 350.6 L307.2 350.9 L308.2 351.3 L309.2 351.6 L310.2 351.9 L311.2 352.3 L312.3 352.6 L313.3 353.0 L314.3 353.4 L315.3 353.8 L316.2 354.2 L317.2 354.6 L318.2 355.0 L319.2 355.4 L320.2 355.8 L321.2 356.3 L322.1 356.7 L323.1 357.2 L324.1 357.6 L325.0 358.1 L326.0 358.6 L327.0 359.1 L327.9 359.6 L328.9 360.1 L329.8 360.6 L330.8 361.1 L331.7 361.6 L332.7 362.1 L333.6 362.6 L334.6 363.2 L335.5 363.7 L336.5 364.2 L337.4 364.7 L338.4 365.2 L339.4 365.8 L340.3 366.3 L341.3 366.8 L342.2 367.3 L343.2 367.8 L344.2 368.3 L345.2 368.8 L346.2 369.3 L347.1 369.8 L348.1 370.3 L349.1 370.8 L350.1 371.2 L351.1 371.7 L352.2 372.1 L353.2 372.6 L354.2 373.0 L355.2 373.4 L356.3 373.8 L357.3 374.1 L358.3 374.5 L359.4 374.8 L360.4 375.0 L361.4 375.3 L362.5 375.5 L363.5 375.7 L364.6 375.8 L365.6 375.9 L366.6 375.9 L367.6 375.9 L368.7 375.9 L369.7 375.8 L370.7 375.6 L371.7 375.5 L372.7 375.2 L373.7 374.9 L374.7 374.6 L375.7 374.3 L376.7 373.9 L377.6 373.4 L378.6 373.0 L379.5 372.5 L380.4 372.0 L381.3 371.4 L382.2 370.9 L383.1 370.3 L384.0 369.7 L384.8 369.0 L385.7 368.4 L386.5 367.7 L387.3 367.1 L388.1 366.4 L388.8 365.7 L389.6 365.0 L390.3 364.2 L391.1 363.5 L391.8 362.7 L392.5 361.9 L393.2 361.1 L393.8 360.3 L394.5 359.5 L395.2 358.7 L395.8 357.9 L396.4 357.0 L397.1 356.2 L397.7 355.3 L398.3 354.4 L398.9 353.6 L399.5 352.7 L400.0 351.8 L400.6 350.9 L401.2 350.0 L401.7 349.0 L402.3 348.1 L402.8 347.2 L403.3 346.2 L403.9 345.3 L404.4 344.4 L404.9 343.4 L405.4 342.4 L405.9 341.5 L406.4 340.5 L406.9 339.6 L407.4 338.6 L407.9 337.6 L408.4 336.6 L408.9 335.7 L409.4 334.7 L409.9 333.7 L410.4 332.7 L410.9 331.8 L411.4 330.8 L411.8 329.8 L412.3 328.8 L412.8 327.9 L413.3 326.9 L413.8 325.9 L414.2 324.9 L414.7 324.0 L415.2 323.0 L415.7 322.0 L416.2 321.0 L416.6 320.1 L417.1 319.1 L417.6 318.1 L418.1 317.1 L418.5 316.1 L419.0 315.2 L419.5 314.2 L419.9 313.2 L420.4 312.2 L420.9 311.3 L421.4 310.3 L421.8 309.3 L422.3 308.3 L422.8 307.3 L423.2 306.4 L423.7 305.4 L424.2 304.4 L424.6 303.4 L425.1 302.5 L425.6 301.5 L426.0 300.5 L426.5 299.5 L427.0 298.5 L427.4 297.6 L427.9 296.6 L428.4 295.6 L428.8 294.6 L429.3 293.7 L429.8 292.7 L430.2 291.7 L430.7 290.7 L431.2 289.8 L431.7 288.8 L432.1 287.8 L432.6 286.8 L433.1 285.9 L433.5 284.9 L434.0 283.9 L434.5 283.0 L434.9 282.0 L435.4 281.0 L435.9 280.1 L436.4 279.1 L436.8 278.1 L437.3 277.1 L437.8 276.2 L438.3 275.2 L438.7 274.3 L439.2 273.3 L439.7 272.3 L440.2 271.4 L440.7 270.4 L441.1 269.4 L441.6 268.5 L442.1 267.5 L442.6 266.6 L443.1 265.6 L443.6 264.6 L444.0 263.7 L444.5 262.7 L445.0 261.8 L445.5 260.8 L446.0 259.9 L446.5 258.9 L447.0 258.0 L447.5 257.0 L448.0 256.1 L448.5 255.1 L449.0 254.2 L449.5 253.2 L450.0 252.3 L450.5 251.3 L451.0 250.4 L451.5 249.4 L452.0 248.5 L452.5 247.6 L453.1 246.6 L453.6 245.7 L454.1 244.8 L454.6 243.8 L455.1 242.9 L455.7 242.0 L456.2 241.0 L456.7 240.1 L457.2 239.2 L457.8 238.2 L458.3 237.3 L458.8 236.4 L459.4 235.5 L459.9 234.6 L460.4 233.6 L461.0 232.7 L461.5 231.8 L462.1 230.9 L462.6 230.0 L463.2 229.1 L463.7 228.1 L464.3 227.2 L464.9 226.3 L465.4 225.4 L466.0 224.5 L466.6 223.6 L467.1 222.7 L467.7 221.8 L468.3 220.9 L468.8 220.0 L469.4 219.1 L470.0 218.2 L470.6 217.3 L471.2 216.5 L471.8 215.6 L472.4 214.7 L473.0 213.8 L473.6 212.9 L474.2 212.0 L474.8 211.2 L475.4 210.3 L476.0 209.4 L476.6 208.5 L477.2 207.7 L477.9 206.8 L478.5 205.9 L479.1 205.1 L479.7 204.2 L480.4 203.3 L481.0 202.5 L481.7 201.6 L482.3 200.8 L482.9 199.9 L483.6 199.1 L484.3 198.2 L484.9 197.4 L485.6 196.5 L486.2 195.7 L486.9 194.9 L487.6 194.0 L488.3 193.2 L488.9 192.4 L489.6 191.5 L490.3 190.7 L491.0 189.9 L491.7 189.0 L492.4 188.2 L493.1 187.4 L493.8 186.6 L494.5 185.8 L495.2 185.0 L496.0 184.2 L496.7 183.3 L497.4 182.5 L498.1 181.7 L498.9 180.9 L499.6 180.1 L500.4 179.4 L501.1 178.6 L501.9 177.8 L502.6 177.0 L503.4 176.2 L504.1 175.4 L504.9 174.6 L505.7 173.9 L506.5 173.1 L507.3 172.3 L508.0 171.6 L508.8 170.8 L509.6 170.0 L510.4 169.3" stroke="#f00" stroke-width="2.25" stroke-dasharray="10.4 6.05"/></g>
<path d="M65.70 479.45V466.05M65.70 1.75V15.15M74.74 479.45V472.75M74.74 1.75V8.45M83.78 479.45V472.75M83.78 1.75V8.45M92.83 479.45V472.75M92.83 1.75V8.45M101.87 479.45V472.75M101.87 1.75V8.45M110.91 479.45V472.75M110.91 1.75V8.45M119.95 479.45V472.75M119.95 1.75V8.45M128.99 479.45V472.75M128.99 1.75V8.45M138.04 479.45V472.75M138.04 1.75V8.45M147.08 479.45V472.75M147.08 1.75V8.45M156.12 479.45V466.05M156.12 1.75V15.15M165.16 479.45V472.75M165.16 1.75V8.45M174.20 479.45V472.75M174.20 1.75V8.45M183.25 479.45V472.75M183.25 1.75V8.45M192.29 479.45V472.75M192.29 1.75V8.45M201.33 479.45V472.75M201.33 1.75V8.45M210.37 479.45V472.75M210.37 1.75V8.45M219.41 479.45V472.75M219.41 1.75V8.45M228.46 479.45V472.75M228.46 1.75V8.45M237.50 479.45V472.75M237.50 1.75V8.45M246.54 479.45V466.05M246.54 1.75V15.15M255.58 479.45V472.75M255.58 1.75V8.45M264.62 479.45V472.75M264.62 1.75V8.45M273.67 479.45V472.75M273.67 1.75V8.45M282.71 479.45V472.75M282.71 1.75V8.45M291.75 479.45V472.75M291.75 1.75V8.45M300.79 479.45V472.75M300.79 1.75V8.45M309.83 479.45V472.75M309.83 1.75V8.45M318.88 479.45V472.75M318.88 1.75V8.45M327.92 479.45V472.75M327.92 1.75V8.45M336.96 479.45V466.05M336.96 1.75V15.15M346.00 479.45V472.75M346.00 1.75V8.45M355.04 479.45V472.75M355.04 1.75V8.45M364.09 479.45V472.75M364.09 1.75V8.45M373.13 479.45V472.75M373.13 1.75V8.45M382.17 479.45V472.75M382.17 1.75V8.45M391.21 479.45V472.75M391.21 1.75V8.45M400.25 479.45V472.75M400.25 1.75V8.45M409.30 479.45V472.75M409.30 1.75V8.45M418.34 479.45V472.75M418.34 1.75V8.45M427.38 479.45V466.05M427.38 1.75V15.15M436.42 479.45V472.75M436.42 1.75V8.45M445.46 479.45V472.75M445.46 1.75V8.45M454.51 479.45V472.75M454.51 1.75V8.45M463.55 479.45V472.75M463.55 1.75V8.45M472.59 479.45V472.75M472.59 1.75V8.45M481.63 479.45V472.75M481.63 1.75V8.45M490.67 479.45V472.75M490.67 1.75V8.45M499.72 479.45V472.75M499.72 1.75V8.45M508.76 479.45V472.75M508.76 1.75V8.45M517.80 479.45V466.05M517.80 1.75V15.15M526.84 479.45V472.75M526.84 1.75V8.45M535.88 479.45V472.75M535.88 1.75V8.45M544.93 479.45V472.75M544.93 1.75V8.45M553.97 479.45V472.75M553.97 1.75V8.45M563.01 479.45V472.75M563.01 1.75V8.45M572.05 479.45V472.75M572.05 1.75V8.45M581.09 479.45V472.75M581.09 1.75V8.45M590.14 479.45V472.75M590.14 1.75V8.45M599.18 479.45V472.75M599.18 1.75V8.45M608.22 479.45V466.05M608.22 1.75V15.15M617.26 479.45V472.75M617.26 1.75V8.45M626.30 479.45V472.75M626.30 1.75V8.45M635.35 479.45V472.75M635.35 1.75V8.45M644.39 479.45V472.75M644.39 1.75V8.45M653.43 479.45V472.75M653.43 1.75V8.45M662.47 479.45V472.75M662.47 1.75V8.45M671.51 479.45V472.75M671.51 1.75V8.45M680.56 479.45V472.75M680.56 1.75V8.45M689.60 479.45V472.75M689.60 1.75V8.45M698.64 479.45V466.05M698.64 1.75V15.15M707.68 479.45V472.75M707.68 1.75V8.45M716.72 479.45V472.75M716.72 1.75V8.45M725.77 479.45V472.75M725.77 1.75V8.45M734.81 479.45V472.75M734.81 1.75V8.45M743.85 479.45V472.75M743.85 1.75V8.45M65.70 11.30H72.40M743.85 11.30H737.15M65.70 30.41H72.40M743.85 30.41H737.15M65.70 49.52H79.10M743.85 49.52H730.45M65.70 68.63H72.40M743.85 68.63H737.15M65.70 87.74H72.40M743.85 87.74H737.15M65.70 106.84H72.40M743.85 106.84H737.15M65.70 125.95H72.40M743.85 125.95H737.15M65.70 145.06H79.10M743.85 145.06H730.45M65.70 164.17H72.40M743.85 164.17H737.15M65.70 183.28H72.40M743.85 183.28H737.15M65.70 202.38H72.40M743.85 202.38H737.15M65.70 221.49H72.40M743.85 221.49H737.15M65.70 240.60H79.10M743.85 240.60H730.45M65.70 259.71H72.40M743.85 259.71H737.15M65.70 278.82H72.40M743.85 278.82H737.15M65.70 297.92H72.40M743.85 297.92H737.15M65.70 317.03H72.40M743.85 317.03H737.15M65.70 336.14H79.10M743.85 336.14H730.45M65.70 355.25H72.40M743.85 355.25H737.15M65.70 374.36H72.40M743.85 374.36H737.15M65.70 393.46H72.40M743.85 393.46H737.15M65.70 412.57H72.40M743.85 412.57H737.15M65.70 431.68H79.10M743.85 431.68H730.45M65.70 450.79H72.40M743.85 450.79H737.15M65.70 469.90H72.40M743.85 469.90H737.15" stroke="#000" stroke-width="1.20" fill="none"/>
<rect x="65.70" y="1.75" width="678.15" height="477.70" fill="none" stroke="#000" stroke-width="1.50"/>
<path d="M231.38 397.55V390.95M231.38 172.56V179.16M248.39 397.55V390.95M248.39 172.56V179.16M260.46 397.55V390.95M260.46 172.56V179.16M269.82 397.55V390.95M269.82 172.56V179.16M277.47 397.55V390.95M277.47 172.56V179.16M283.94 397.55V390.95M283.94 172.56V179.16M289.54 397.55V390.95M289.54 172.56V179.16M294.48 397.55V390.95M294.48 172.56V179.16M298.90 397.55V384.15M298.90 172.56V185.96M327.98 397.55V390.95M327.98 172.56V179.16M344.99 397.55V390.95M344.99 172.56V179.16M357.06 397.55V390.95M357.06 172.56V179.16M366.42 397.55V390.95M366.42 172.56V179.16M374.07 397.55V390.95M374.07 172.56V179.16M380.54 397.55V390.95M380.54 172.56V179.16M386.14 397.55V390.95M386.14 172.56V179.16M391.08 397.55V390.95M391.08 172.56V179.16M395.50 397.55V384.15M395.50 172.56V185.96M424.58 397.55V390.95M424.58 172.56V179.16M441.59 397.55V390.95M441.59 172.56V179.16M453.66 397.55V390.95M453.66 172.56V179.16M463.02 397.55V390.95M463.02 172.56V179.16M470.67 397.55V390.95M470.67 172.56V179.16M477.14 397.55V390.95M477.14 172.56V179.16M482.74 397.55V390.95M482.74 172.56V179.16M487.68 397.55V390.95M487.68 172.56V179.16M492.10 397.55V384.15M492.10 172.56V185.96M202.30 374.22H208.90M509.10 374.22H502.50M202.30 360.57H208.90M509.10 360.57H502.50M202.30 350.89H208.90M509.10 350.89H502.50M202.30 343.38H208.90M509.10 343.38H502.50M202.30 337.24H208.90M509.10 337.24H502.50M202.30 332.05H208.90M509.10 332.05H502.50M202.30 327.56H208.90M509.10 327.56H502.50M202.30 323.60H208.90M509.10 323.60H502.50M202.30 320.05H215.70M509.10 320.05H495.70M202.30 296.72H208.90M509.10 296.72H502.50M202.30 283.07H208.90M509.10 283.07H502.50M202.30 273.39H208.90M509.10 273.39H502.50M202.30 265.88H208.90M509.10 265.88H502.50M202.30 259.74H208.90M509.10 259.74H502.50M202.30 254.55H208.90M509.10 254.55H502.50M202.30 250.06H208.90M509.10 250.06H502.50M202.30 246.10H208.90M509.10 246.10H502.50M202.30 242.55H215.70M509.10 242.55H495.70M202.30 219.22H208.90M509.10 219.22H502.50M202.30 205.57H208.90M509.10 205.57H502.50M202.30 195.89H208.90M509.10 195.89H502.50M202.30 188.38H208.90M509.10 188.38H502.50M202.30 182.24H208.90M509.10 182.24H502.50M202.30 177.05H208.90M509.10 177.05H502.50M202.30 172.56H208.90M509.10 172.56H502.50" stroke="#000" stroke-width="1.10" fill="none"/>
<rect x="202.30" y="172.56" width="306.80" height="224.99" fill="none" stroke="#000" stroke-width="1.50"/>
<text x="65.70" y="502.60" font-size="23" text-anchor="middle" font-family="Liberation Serif, serif">0</text>
<text x="156.12" y="502.60" font-size="23" text-anchor="middle" font-family="Liberation Serif, serif">0.2</text>
<text x="246.54" y="502.60" font-size="23" text-anchor="middle" font-family="Liberation Serif, serif">0.4</text>
<text x="336.96" y="502.60" font-size="23" text-anchor="middle" font-family="Liberation Serif, serif">0.6</text>
<text x="427.38" y="502.60" font-size="23" text-anchor="middle" font-family="Liberation Serif, serif">0.8</text>
<text x="517.80" y="502.60" font-size="23" text-anchor="middle" font-family="Liberation Serif, serif">1</text>
<text x="608.22" y="502.60" font-size="23" text-anchor="middle" font-family="Liberation Serif, serif">1.2</text>
<text x="698.64" y="502.60" font-size="23" text-anchor="middle" font-family="Liberation Serif, serif">1.4</text>
<text x="59.20" y="57.62" font-size="23" text-anchor="end" font-family="Liberation Serif, serif">0</text>
<text x="59.20" y="153.16" font-size="23" text-anchor="end" font-family="Liberation Serif, serif">-2</text>
<text x="59.20" y="248.70" font-size="23" text-anchor="end" font-family="Liberation Serif, serif">-4</text>
<text x="59.20" y="344.24" font-size="23" text-anchor="end" font-family="Liberation Serif, serif">-6</text>
<text x="59.20" y="439.78" font-size="23" text-anchor="end" font-family="Liberation Serif, serif">-8</text>
<text x="361.00" y="529.30" font-size="28" font-family="Liberation Serif, serif" text-anchor="start">a<tspan font-size="19.88" dy="11.20">dd</tspan><tspan dy="-11.20" dx="0.40"> /</tspan><tspan dx="0.80"> a</tspan><tspan font-size="19.88" dy="11.20">ho</tspan></text>
<text x="0" y="0" font-size="28" font-family="Liberation Serif, serif" transform="translate(21.30 304.50) rotate(-90)">Units of a<tspan font-size="19.88" dy="11.20">ho</tspan></text>
<text x="93.5" y="93.9" font-size="24" fill="#f00" font-family="Liberation Serif, serif">F</text>
<text x="191.8" y="72.7" font-size="24" fill="#f00" font-family="Liberation Serif, serif">F</text>
<text x="327.3" y="86.6" font-size="24" font-family="Liberation Serif, serif">B</text>
<text x="226.1" y="133.4" font-size="24" font-family="Liberation Serif, serif">B</text>
<text x="203.20" y="424.80" font-size="18.5" text-anchor="middle" font-family="Liberation Serif, serif">10<tspan font-size="13.135" dy="-11.30">-3</tspan></text>
<text x="299.80" y="424.80" font-size="18.5" text-anchor="middle" font-family="Liberation Serif, serif">10<tspan font-size="13.135" dy="-11.30">-2</tspan></text>
<text x="396.40" y="424.80" font-size="18.5" text-anchor="middle" font-family="Liberation Serif, serif">10<tspan font-size="13.135" dy="-11.30">-1</tspan></text>
<text x="493.00" y="424.80" font-size="18.5" text-anchor="middle" font-family="Liberation Serif, serif">10<tspan font-size="13.135" dy="-11.30">0</tspan></text>
<text x="196.6" y="250.55" font-size="23.5" text-anchor="end" font-family="Liberation Serif, serif">1</text>
<text x="196.6" y="328.05" font-size="23.5" text-anchor="end" font-family="Liberation Serif, serif">0.1</text>
<text x="326.50" y="445.40" font-size="18.5" font-family="Liberation Serif, serif" text-anchor="start">a<tspan font-size="13.135" dy="7.40">dd</tspan><tspan dy="-7.40" dx="0.40"> /</tspan><tspan dx="1.10"> a</tspan><tspan font-size="13.135" dy="7.40">ho</tspan></text>
<text x="0" y="0" font-size="19.5" font-family="Liberation Serif, serif" transform="translate(157.30 330.60) rotate(-90)">β<tspan font-size="13.845" dy="-12.09">F</tspan><tspan dy="12.09"> / (10</tspan><tspan font-size="13.845" dy="-12.09">-2</tspan><tspan dy="12.09"> a</tspan><tspan dx="2.2">)</tspan></text>
<path d="M145.4 248.6V256.6" stroke="#000" stroke-width="1" fill="none"/>
</svg>
</body></html>
